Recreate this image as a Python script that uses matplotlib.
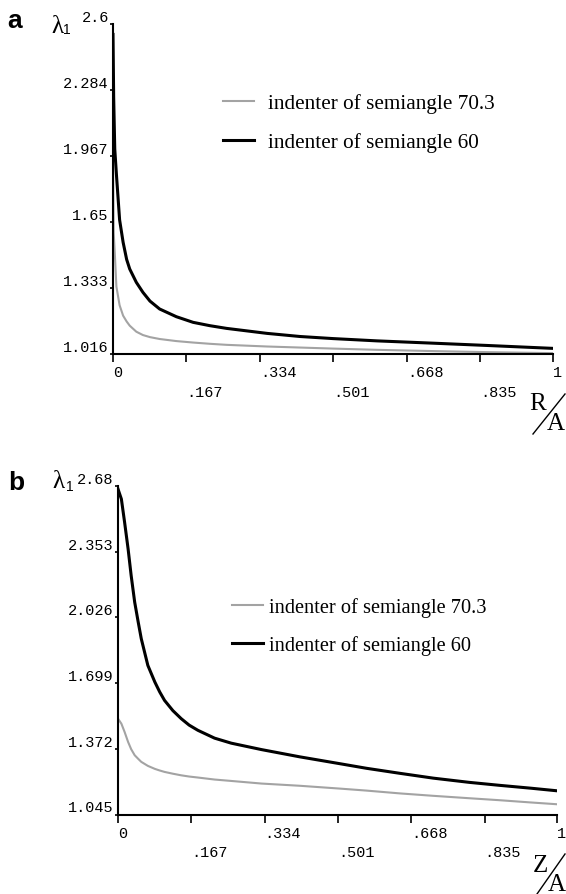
import matplotlib
matplotlib.use("Agg")
import matplotlib.pyplot as plt
from matplotlib.lines import Line2D

# panel a : lambda_1 vs R/A
r_a = [0, 0.0015, 0.004, 0.0077, 0.015, 0.023, 0.031, 0.038, 0.053, 0.068, 0.084,
       0.106, 0.144, 0.182, 0.22, 0.258, 0.35, 0.425, 0.5, 0.6, 0.727, 0.85, 1.0]
black_a = [2.55, 2.25, 2.0, 1.88, 1.66, 1.552, 1.47, 1.424, 1.36, 1.312, 1.27,
           1.232, 1.195, 1.168, 1.152, 1.139, 1.115, 1.10, 1.09, 1.079, 1.068, 1.057, 1.043]
gray_a = [1.95, 1.6, 1.504, 1.34, 1.25, 1.20, 1.172, 1.152, 1.123, 1.107, 1.097,
          1.088, 1.078, 1.071, 1.065, 1.06, 1.052, 1.047, 1.042, 1.036, 1.03, 1.025, 1.02]
yticks_a = [1.016, 1.333, 1.65, 1.967, 2.284, 2.6]
ylabels_a = ["1.016", "1.333", "1.65", "1.967", "2.284", "2.6"]

# panel b : lambda_1 vs Z/A
z_b = [0, 0.0077, 0.015, 0.023, 0.030, 0.038, 0.046, 0.053, 0.068, 0.084, 0.095,
       0.106, 0.125, 0.144, 0.162, 0.182, 0.22, 0.258, 0.327, 0.414, 0.505, 0.566,
       0.642, 0.718, 0.8, 0.87, 0.94, 1.0]
black_b = [2.665, 2.615, 2.50, 2.367, 2.234, 2.102, 2.003, 1.92, 1.787, 1.704, 1.655,
           1.613, 1.562, 1.522, 1.49, 1.464, 1.425, 1.40, 1.368, 1.332, 1.298, 1.275,
           1.25, 1.226, 1.205, 1.19, 1.176, 1.163]
gray_b = [1.522, 1.497, 1.456, 1.406, 1.37, 1.34, 1.322, 1.307, 1.287, 1.272, 1.264,
          1.257, 1.248, 1.24, 1.234, 1.229, 1.219, 1.212, 1.199, 1.188, 1.174, 1.164,
          1.15, 1.138, 1.126, 1.116, 1.105, 1.096]
yticks_b = [1.045, 1.372, 1.699, 2.026, 2.353, 2.68]
ylabels_b = ["1.045", "1.372", "1.699", "2.026", "2.353", "2.68"]

xmajor = [0, 0.334, 0.668, 1]
xmajor_labels = ["0", ".334", ".668", "1"]
xminor = [0.167, 0.501, 0.835]
xminor_labels = [".167", ".501", ".835"]

labels = ["indenter of semiangle 70.3", "indenter of semiangle 60"]
GRAY = "#a3a3a3"
MONO = "Liberation Mono"
SERIF = ["Liberation Serif", "DejaVu Serif"]

W, H = 566, 895
fig = plt.figure(figsize=(W / 100, H / 100), dpi=100)


def px(x, y):
    return x / W, 1 - y / H


def setup(ax, x, ys_g, ys_b, yticks, ylabels, ylim, leg_anchor, fs, textpad):
    ax.plot(x, ys_g, color=GRAY, lw=1.5, label=labels[0])
    ax.plot(x, ys_b, color="black", lw=2.2, label=labels[1])
    ax.set_xlim(0, 1)
    ax.set_ylim(*ylim)
    for s in ["top", "right"]:
        ax.spines[s].set_visible(False)
    for s in ["left", "bottom"]:
        ax.spines[s].set_linewidth(1.5)
    ax.set_yticks(yticks)
    ax.set_yticklabels(ylabels, family=MONO, fontsize=11)
    ax.tick_params(axis="y", length=2, width=1.2, pad=1)
    ax.set_xticks(xmajor)
    ax.set_xticklabels(xmajor_labels, family=MONO, fontsize=11, ha="left")
    ax.set_xticks(xminor, minor=True)
    ax.set_xticklabels(xminor_labels, minor=True, family=MONO, fontsize=11, ha="left")
    ax.tick_params(axis="x", which="major", length=6, width=1.2, pad=2)
    ax.tick_params(axis="x", which="minor", length=6, width=1.2, pad=16)
    for lab in ax.get_yticklabels():
        lab.set_va("bottom")
    ax.set_ylabel("λ", rotation=0, fontsize=18, family=SERIF, va="center")
    ax.legend(loc="upper left", bbox_to_anchor=leg_anchor, frameon=False,
              prop={"family": SERIF, "size": fs}, handlelength=1.46 * 15.3 / fs,
              handletextpad=textpad, labelspacing=0.9, borderpad=0, borderaxespad=0)


ax1 = fig.add_axes([113 / W, 1 - 355 / H, 440 / W, 330 / H])
setup(ax1, r_a, gray_a, black_a, yticks_a, ylabels_a, (1.016, 2.6), (0.249, 0.79),
      15.3, 0.66)
ax1.yaxis.set_label_coords(-0.127, 0.993)

ax2 = fig.add_axes([118 / W, 1 - 815.5 / H, 439 / W, 328.5 / H])
setup(ax2, z_b, gray_b, black_b, yticks_b, ylabels_b, (1.045, 2.68), (0.26, 0.662),
      14.7, 0.3)
ax2.yaxis.set_label_coords(-0.135, 1.015)

# subscripts of lambda
fig.text(*px(67, 30), "1", fontsize=10, family="Liberation Sans", ha="center", va="center")
fig.text(*px(70, 487), "1", fontsize=10, family="Liberation Sans", ha="center", va="center")

# panel letters
fig.text(*px(15, 21), "a", fontsize=19, fontweight="bold", family="Liberation Sans",
         ha="center", va="center")
fig.text(*px(16, 483), "b", fontsize=19, fontweight="bold", family="Liberation Sans",
         ha="center", va="center")

# axis quantities R/A and Z/A
for top, bot, num, numc, denc in [((565, 395), (533, 435), "R", (538, 404), (556, 424)),
                                  ((565, 855), (537, 895), "Z", (540, 866), (557, 885))]:
    fig.text(*px(*numc), num, fontsize=18, family=SERIF, ha="center", va="center")
    fig.text(*px(*denc), "A", fontsize=18, family=SERIF, ha="center", va="center")
    (x0, y0), (x1, y1) = px(*top), px(*bot)
    fig.add_artist(Line2D([x0, x1], [y0, y1], color="black", lw=1.0))

fig.savefig("out.png", dpi=100)
